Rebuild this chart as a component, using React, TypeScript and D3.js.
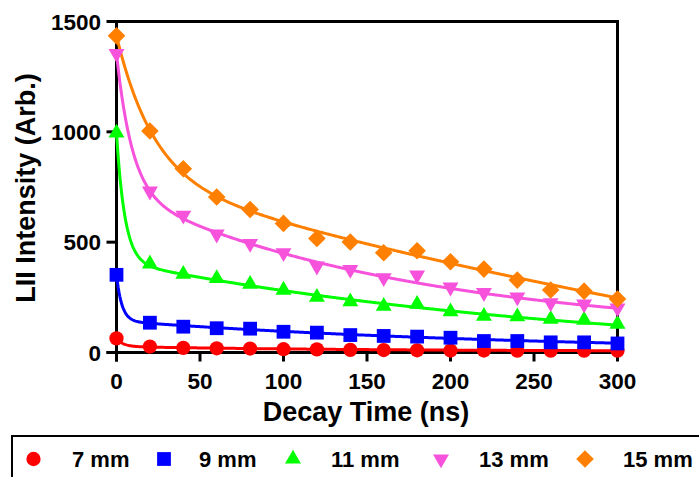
import React from 'react';
import * as d3 from 'd3';

const times = [0, 20, 40, 60, 80, 100, 120, 140, 160, 180, 200, 220, 240, 260, 280, 300];
const seriesLabels = ['7 mm', '9 mm', '11 mm', '13 mm', '15 mm'];
const seriesColors = ['#FF0000', '#0000FF', '#00FF00', '#F652DB', '#FF8000'];

const values7mm = [64, 27, 21, 19, 18, 15, 14, 12, 11, 10, 9, 9, 8, 8, 8, 8];
const values9mm = [352, 135, 117, 110, 108, 94, 90, 79, 75, 72, 67, 52, 52, 46, 46, 41];
const values11mm = [995, 402, 355, 336, 310, 283, 251, 230, 210, 219, 185, 165, 162, 151, 147, 129];
const values13mm = [1355, 731, 622, 536, 494, 452, 391, 376, 338, 351, 296, 271, 251, 225, 219, 201];
const values15mm = [1435, 1004, 833, 705, 648, 585, 517, 501, 452, 461, 411, 378, 328, 283, 278, 242];
const allValues = [values7mm, values9mm, values11mm, values13mm, values15mm];

// two-phase decay fit parameters
const fitPlateau = [5, -3, -26, 83, -774];
const fitFastSpan = [37, 209, 583, 626, 641];
const fitFastTau = [4, 3.2, 5, 9.3, 22];
const fitSlowSpan = [22, 146, 438, 646, 1568];
const fitSlowTau = [150, 256, 280, 176, 700];

const xTicks = [0, 50, 100, 150, 200, 250, 300];
const yTicks = [0, 500, 1000, 1500];

const legendMarkerX = [33.5, 164, 293, 441, 585];
const legendTextX = [72, 199, 331, 479, 623];

const FONT = '"Liberation Sans", Arial, Helvetica, sans-serif';

function markerPath(i: number): { d: string; rot: number } {
  const gens = [
    d3.symbol(d3.symbolCircle, 160),
    d3.symbol(d3.symbolSquare, 190),
    d3.symbol(d3.symbolTriangle, 110),
    d3.symbol(d3.symbolTriangle, 110),
    d3.symbol(d3.symbolSquare, 155),
  ];
  const rots = [0, 0, 0, 180, 45];
  return { d: gens[i]() as string, rot: rots[i] };
}

export default function App() {
  const x = d3.scaleLinear().domain([0, 300]).range([116.5, 617.5]);
  const y = d3.scaleLinear().domain([0, 1500]).range([352.5, 21.5]);

  const fitT = d3.range(0, 300.01, 0.5);
  const line = d3
    .line<[number, number]>()
    .x((d) => x(d[0]))
    .y((d) => y(d[1]));

  const fitCurve = (i: number) =>
    line(
      fitT.map((t) => [
        t,
        fitPlateau[i] +
          fitFastSpan[i] * Math.exp(-t / fitFastTau[i]) +
          fitSlowSpan[i] * Math.exp(-t / fitSlowTau[i]),
      ])
    ) as string;

  const sw = 3;

  return (
    <svg
      width={699}
      height={477}
      style={{ position: 'absolute', left: 0, top: 0, background: '#fff' }}
      fontFamily={FONT}
      fontWeight="bold"
    >
      <rect x={0} y={0} width={699} height={477} fill="#fff" />
      {/* frame top & right */}
      <path
        d={`M${x(0)},${y(1500)}H${x(300)}V${y(0)}`}
        fill="none"
        stroke="#000"
        strokeWidth={sw}
      />
      {/* y axis */}
      <line x1={x(0)} x2={x(0)} y1={y(1500) - 1.5} y2={y(0) + 9} stroke="#000" strokeWidth={sw} />
      {yTicks.map((v) => (
        <g key={'yt' + v}>
          <line x1={x(0) - 10} x2={x(0)} y1={y(v)} y2={y(v)} stroke="#000" strokeWidth={sw} />
          <text x={101} y={y(v) + 8} textAnchor="end" fontSize={22.5}>
            {v}
          </text>
        </g>
      ))}
      {/* x axis */}
      <line x1={x(0) - 10} x2={x(300) + 1.5} y1={y(0)} y2={y(0)} stroke="#000" strokeWidth={sw} />
      {xTicks.map((v) => (
        <g key={'xt' + v}>
          <line x1={x(v)} x2={x(v)} y1={y(0)} y2={y(0) + 9} stroke="#000" strokeWidth={sw} />
          <text x={x(v)} y={389} textAnchor="middle" fontSize={22.5}>
            {v}
          </text>
        </g>
      ))}
      <text x={366} y={421} textAnchor="middle" fontSize={27}>
        Decay Time (ns)
      </text>
      <text
        transform={`translate(35,188) rotate(-90)`}
        textAnchor="middle"
        fontSize={27}
      >
        LII Intensity (Arb.)
      </text>

      {/* fit curves */}
      {allValues.map((_, i) => (
        <path key={'c' + i} d={fitCurve(i)} fill="none" stroke={seriesColors[i]} strokeWidth={3} />
      ))}
      {/* markers */}
      {allValues.map((vals, i) => {
        const m = markerPath(i);
        return (
          <g key={'m' + i} fill={seriesColors[i]}>
            {vals.map((v, j) => (
              <path
                key={j}
                d={m.d}
                transform={`translate(${x(times[j])},${y(v)}) rotate(${m.rot})`}
              />
            ))}
          </g>
        );
      })}

      {/* legend */}
      <path d="M12,478V436H700" fill="none" stroke="#000" strokeWidth={2} />
      {seriesLabels.map((lab, i) => {
        const m = markerPath(i);
        return (
          <g key={'lg' + i}>
            <path
              d={m.d}
              fill={seriesColors[i]}
              transform={`translate(${legendMarkerX[i]},459) rotate(${m.rot})`}
            />
            <text x={legendTextX[i]} y={467} fontSize={22}>
              {lab}
            </text>
          </g>
        );
      })}
    </svg>
  );
}
